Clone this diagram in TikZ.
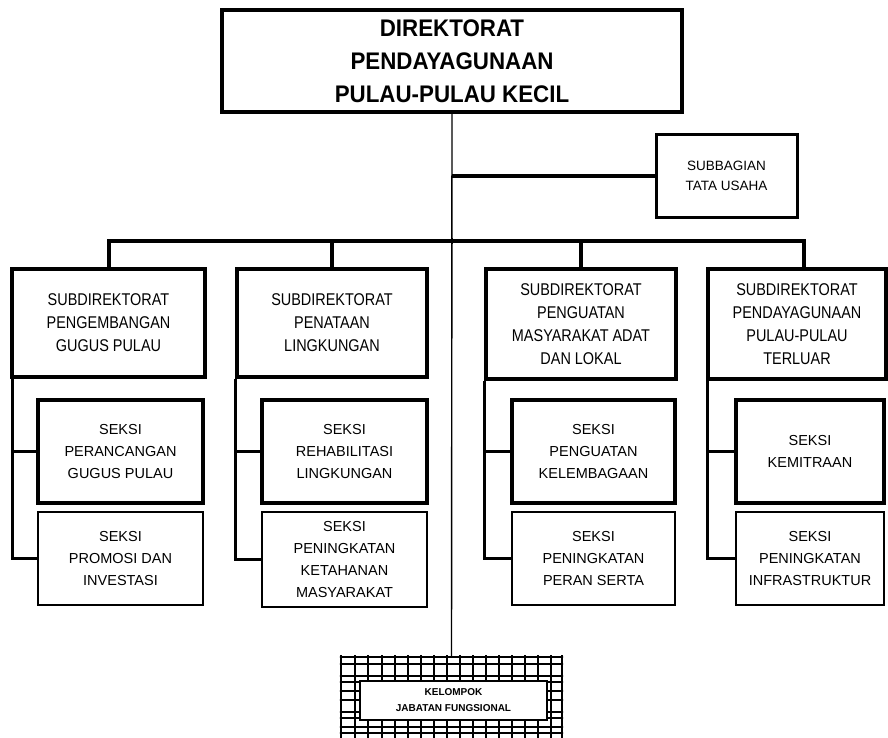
\documentclass[tikz,border=0pt]{standalone}
\usepackage{fontspec}
\setmainfont{Liberation Sans}
\newfontfamily\headfont[FakeStretch=0.93]{Liberation Sans}
\newfontfamily\subfont[FakeStretch=0.85]{Liberation Sans}
\begin{document}
\begin{tikzpicture}[x=1pt,y=-1pt,
  box/.style={draw=black, line width=3.4pt, fill=white, align=center, inner sep=0pt},
  conn/.style={line width=3.4pt},
  thinconn/.style={line width=1.4pt},
  headtext/.style={font={\headfont\bfseries\fontsize{24}{33}\selectfont}},
  subtext/.style={font={\subfont\fontsize{17}{23}\selectfont}},
  seksitext/.style={font={\fontsize{14.5}{22}\selectfont}},
  tutext/.style={font={\fontsize{13.5}{20}\selectfont}},
  fgtext/.style={font={\bfseries\fontsize{10}{16}\selectfont}},
  gridline/.style={line width=1.3pt}]
\clip (0,0) rectangle (888,738);
\fill[white] (0,0) rectangle (888,738);
\useasboundingbox (0,0) rectangle (888,738);

% top
\node[box, line width=3.6pt, minimum width=460pt, minimum height=102pt, headtext] (dir) at (452,61) {DIREKTORAT\\PENDAYAGUNAAN\\PULAU-PULAU KECIL};
\node[box, line width=3pt, minimum width=141pt, minimum height=82pt, tutext] (tu) at (726.5,176) {SUBBAGIAN\\TATA USAHA};

% subdirectorates
\node[box, minimum width=193pt, minimum height=108pt, subtext] (s1) at (108.5,323) {SUBDIREKTORAT\\PENGEMBANGAN\\GUGUS PULAU};
\node[box, minimum width=190pt, minimum height=108pt, subtext] (s2) at (332,323) {SUBDIREKTORAT\\PENATAAN\\LINGKUNGAN};
\node[box, minimum width=190pt, minimum height=110pt, subtext] (s3) at (581,324) {SUBDIREKTORAT\\PENGUATAN\\MASYARAKAT ADAT\\DAN LOKAL};
\node[box, minimum width=178pt, minimum height=110pt, subtext] (s4) at (797,324) {SUBDIREKTORAT\\PENDAYAGUNAAN\\PULAU-PULAU\\TERLUAR};

% seksi
\node[box, minimum width=165pt, minimum height=103pt, seksitext] (a1) at (120.5,451.5) {SEKSI\\PERANCANGAN\\GUGUS PULAU};
\node[box, line width=2.6pt, minimum width=165pt, minimum height=93pt, seksitext] (b1) at (120.5,558.5) {SEKSI\\PROMOSI DAN\\INVESTASI};
\node[box, minimum width=165pt, minimum height=103pt, seksitext] (a2) at (344.5,451.5) {SEKSI\\REHABILITASI\\LINGKUNGAN};
\node[box, line width=2.6pt, minimum width=165pt, minimum height=95pt, seksitext] (b2) at (344.5,559.5) {SEKSI\\PENINGKATAN\\KETAHANAN\\MASYARAKAT};
\node[box, minimum width=163pt, minimum height=103pt, seksitext] (a3) at (593.5,451.5) {SEKSI\\PENGUATAN\\KELEMBAGAAN};
\node[box, line width=2.6pt, minimum width=163pt, minimum height=93pt, seksitext] (b3) at (593.5,558.5) {SEKSI\\PENINGKATAN\\PERAN SERTA};
\node[box, minimum width=148pt, minimum height=103pt, seksitext] (a4) at (810,451.5) {SEKSI\\KEMITRAAN};
\node[box, line width=2.6pt, minimum width=148pt, minimum height=93pt, seksitext] (b4) at (810,558.5) {SEKSI\\PENINGKATAN\\INFRASTRUKTUR};

% fungsional outer grid box
\node[draw, line width=2.4pt, minimum width=221pt, minimum height=96pt, inner sep=0pt] (kjfo) at (451.5,705) {};
\begin{scope}
  \clip (kjfo.south west) rectangle (kjfo.north east);
  \foreach \gx in {341,355,368,382,395,408,421,434,447,460,473,486,499,512,525,538,551,562}
    \draw[gridline] (\gx,650) -- (\gx,760);
  \foreach \gy in {657,664,676,682,691,700,712,718,727,733}
    \draw[gridline] (330,\gy) -- (570,\gy);
\end{scope}
\node[box, line width=2.8pt, minimum width=187pt, minimum height=39pt, fgtext] (kjf) at (453.5,700.5) {KELOMPOK\\JABATAN FUNGSIONAL};

% connectors
\draw[thinconn] (dir.south) -- (kjfo.north);
\draw[conn] (dir.south |- tu.west) -- (tu.west);
\coordinate (bl) at (108,241);
\coordinate (br) at (804,241);
\draw[conn, line width=4pt] (s1.north) -- (s1.north |- bl) -- (br) -- (br |- s4.north);
\draw[conn] (s2.north) -- (s2.north |- bl);
\draw[conn] (s3.north) -- (s3.north |- bl);
\draw[thinconn] (dir.south |- bl) ++(0,-3) -- ++(0,6);

\coordinate (v1) at ([xshift=2pt]s1.south west);
\coordinate (v2) at ([xshift=0pt]s2.south west);
\coordinate (v3) at ([xshift=0pt]s3.south west);
\coordinate (v4) at ([xshift=1pt]s4.south west);
\foreach \i in {1,2,3,4} {
  \draw[conn] (v\i) |- (b\i.west);
  \draw[conn] (a\i.west) -- (a\i.west -| v\i);
}
\end{tikzpicture}
\end{document}
